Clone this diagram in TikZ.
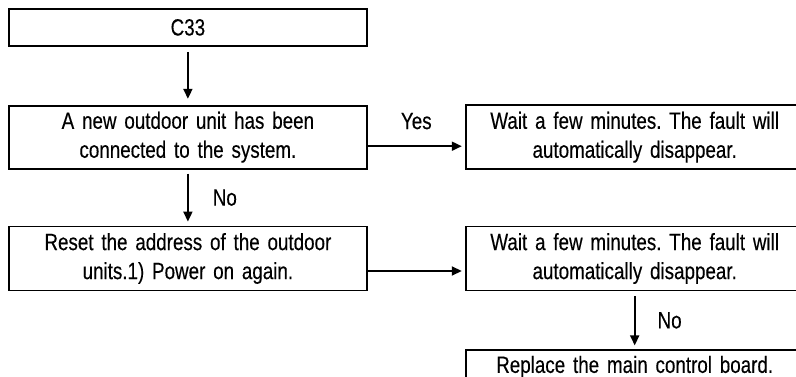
\documentclass[tikz,border=0pt]{standalone}
\usepackage{fontspec}
\setmainfont{Liberation Sans}[FakeStretch=0.8, WordSpace=0.6, FakeBold=0.3]
\usetikzlibrary{positioning,arrows.meta}
\newcommand{\lbl}{\fontsize{23.5pt}{29pt}\selectfont\frenchspacing}

\begin{document}
\begin{tikzpicture}[
  x=1pt, y=-1pt,
  node distance=58pt and 97pt,
  stepbox/.style={draw=black, line width=1.8pt, align=center, inner sep=3pt, font=\lbl},
  leftbox/.style={stepbox, minimum width=358pt, text width=350pt},
  rightbox/.style={stepbox, minimum width=338pt, text width=330pt},
  arr/.style={-{Triangle[length=10pt,width=9pt]}, line width=1.8pt, draw=black},
  ans/.style={font=\lbl, inner sep=2pt}
]
\useasboundingbox (0,0) rectangle (796,377);
\node[leftbox, minimum height=37pt, anchor=north west] (c33) at (8,8) {C33};
\node[leftbox, minimum height=63pt, below=of c33] (newunit) {A new outdoor unit has been\\connected to the system.};
\node[leftbox, minimum height=64pt, below=56pt of newunit] (reset) {Reset the address of the outdoor\\units.1) Power on again.};
\node[rightbox, minimum height=64pt, right=of newunit.east, anchor=west] (waita) {Wait a few minutes. The fault will\\automatically disappear.};
\node[rightbox, minimum height=64pt, right=of reset.east, anchor=west] (waitb) {Wait a few minutes. The fault will\\automatically disappear.};
\node[rightbox, minimum height=33pt, below=58pt of waitb] (board) {Replace the main control board.};
\draw[arr, shorten <=5pt, shorten >=6pt] (c33) -- (newunit);
\draw[arr, shorten <=4pt, shorten >=4pt] (newunit) -- node[ans, right=22pt] {No} (reset);
\draw[arr, shorten >=3pt] ([yshift=-9pt]newunit.east) -- node[ans, above=14pt] {Yes} ([yshift=-9pt]newunit.east -| waita.west);
\draw[arr, shorten >=3pt] ([yshift=-12.5pt]reset.east) -- ([yshift=-12.5pt]reset.east -| waitb.west);
\draw[arr, shorten <=5pt, shorten >=4pt] (waitb) -- node[ans, right=20pt] {No} (board);
\end{tikzpicture}
\end{document}
